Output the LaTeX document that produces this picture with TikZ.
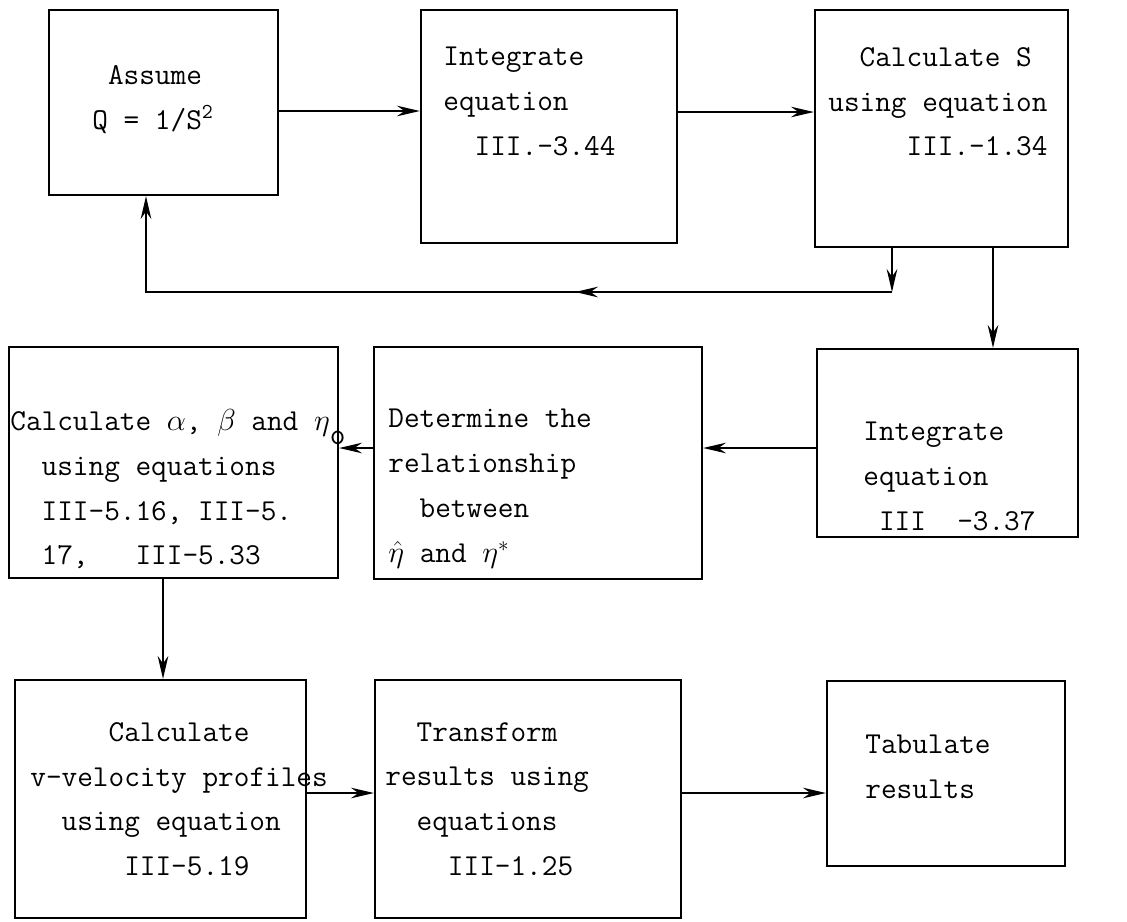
\documentclass[tikz,border=0pt]{standalone}
\usepackage{amsmath, amssymb}
\usepackage{tikz}
\usetikzlibrary{arrows.meta, decorations.markings}

\begin{document}
\begin{tikzpicture}[x=0.02cm, y=-0.02cm,
    box/.style={draw, line width=1.3pt, inner sep=0pt},
    txt/.style={anchor=north west, align=left, inner sep=0pt, font=\ttfamily\fontsize{17.3}{25.5}\selectfont},
    arr/.style={line width=1.3pt, -{Stealth[length=13pt, width=6pt]}}]
    \useasboundingbox (0,0) rectangle (1127,921);

    % Top row
    \node[box, minimum width=4.58cm, minimum height=3.70cm] (assume) at (163.5,102.5) {};
    \node[txt] (assumetxt) at (92,65) {~Assume\\Q = 1/S\textsuperscript{2}};

    \node[box, minimum width=5.12cm, minimum height=4.66cm] (integA) at (549,126.5) {};
    \node[txt] (integAtxt) at (443,47) {Integrate\\equation\\~~III.-3.44};

    \node[box, minimum width=5.06cm, minimum height=4.74cm] (calcS) at (941.5,128.5) {};
    \node[txt] (calcStxt) at (828,47) {~~Calculate S\\using equation\\~~~~~III.-1.34};

    % Middle row
    \node[box, minimum width=6.58cm, minimum height=4.62cm] (calcab) at (173.5,462.5) {};
    \node[txt] (calcabtxt) at (10,409) {Calculate $\alpha$,~$\beta$ and $\eta$\raisebox{-0.45em}{o}\\~~using equations\\~~III-5.16, III-5.\\~~17,~~~III-5.33};

    \node[box, minimum width=6.56cm, minimum height=4.64cm] (determ) at (538,463) {};
    \node[txt] (determtxt) at (388,409) {Determine the\\relationship\\~~between\\$\hat{\eta}$ and $\eta^{*}$};

    \node[box, minimum width=5.22cm, minimum height=3.76cm] (integB) at (947.5,443) {};
    \node[txt] (integBtxt) at (863,422) {Integrate\\equation\\~III~~-3.37};

    % Bottom row
    \node[box, minimum width=5.82cm, minimum height=4.76cm] (calcv) at (160.5,799) {};
    \node[txt] (calcvtxt) at (30,722) {~~~~~Calculate\\v-velocity profiles\\~~using equation\\~~~~~~III-5.19};

    \node[box, minimum width=6.12cm, minimum height=4.76cm] (transf) at (528,799) {};
    \node[txt] (transftxt) at (385,722) {~~Transform\\results using\\~~equations\\~~~~III-1.25};

    \node[box, minimum width=4.76cm, minimum height=3.70cm] (tabul) at (946,773.5) {};
    \node[txt] (tabultxt) at (865,735) {Tabulate\\results};

    % Connectors
    \coordinate (ab) at ([yshift=-0.17cm]assume.east);
    \draw[arr] (ab) -- (ab -| integA.west);
    \coordinate (bc) at ([yshift=0.29cm]integA.east);
    \draw[arr] (bc) -- (bc -| calcS.west);

    % feedback loop
    \coordinate (fbR) at (892,292);
    \coordinate (fbL) at (146,292);
    \draw[arr] (calcS.south -| fbR) -- (fbR);
    \draw[arr, postaction={decorate}, decoration={markings,
        mark=at position 6.34cm with {\arrow{Stealth[length=13pt, width=6pt]}}}]
        (fbR) -- (fbL) -- (fbL |- assume.south);

    \coordinate (sdown) at ([xshift=1.03cm]calcS.south);
    \draw[arr] (sdown) -- (sdown |- integB.north);
    \coordinate (fe) at ([yshift=-0.10cm]integB.west);
    \draw[arr] (fe) -- (fe -| determ.east);
    \coordinate (ed) at ([yshift=0.30cm]determ.west);
    \draw[arr] (ed) -- (ed -| calcab.east);
    \coordinate (dg) at ([xshift=-0.21cm]calcab.south);
    \draw[arr] (dg) -- (dg |- calcv.north);
    \coordinate (gh) at ([yshift=0.12cm]calcv.east);
    \draw[arr] (gh) -- (gh -| transf.west);
    \coordinate (hi) at ([yshift=0.12cm]transf.east);
    \draw[arr] (hi) -- (hi -| tabul.west);
\end{tikzpicture}
\end{document}
